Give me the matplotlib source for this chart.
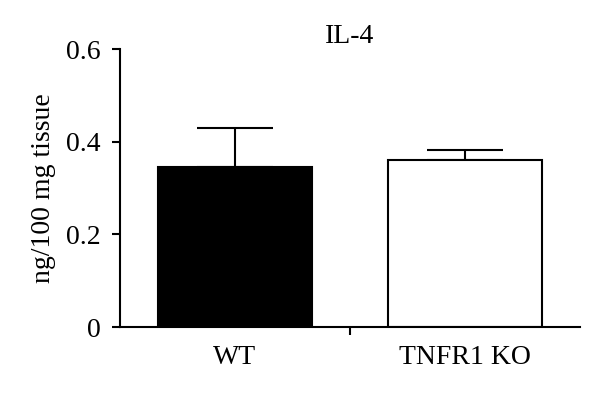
import matplotlib
matplotlib.use("Agg")
import matplotlib.pyplot as plt
from matplotlib.ticker import FixedLocator

categories = ["WT", "TNFR1 KO"]
means = [0.345, 0.361]
errors = [0.084, 0.020]
colors = ["black", "white"]
title = "IL-4"
ylabel = "ng/100 mg tissue"
yticks = [0, 0.2, 0.4, 0.6]
ytick_labels = ["0", "0.2", "0.4", "0.6"]

plt.rcParams['font.family'] = ['Liberation Serif', 'DejaVu Serif']

fig = plt.figure(figsize=(6, 3.94), dpi=100)
ax = fig.add_axes([0.2, 0.170, 0.7667, 0.7056])

x = list(range(len(categories)))
ax.bar(x, means, width=0.67, color=colors, edgecolor="black", linewidth=1.5, zorder=2)
ax.errorbar(x, means, yerr=[[0, 0], errors], fmt="none", ecolor="black",
            elinewidth=1.5, capsize=27.5, capthick=1.5, zorder=1)

ax.set_xlim(-0.5, 1.5)
ax.set_ylim(0, 0.6)
ax.spines["top"].set_visible(False)
ax.spines["right"].set_visible(False)
for s in ["left", "bottom"]:
    ax.spines[s].set_linewidth(1.5)

ax.set_yticks(yticks)
ax.set_yticklabels(ytick_labels)
ax.tick_params(axis="y", length=6, width=1.5, pad=8, labelsize=20)

ax.set_xticks(x)
ax.set_xticklabels(categories)
ax.tick_params(axis="x", which="major", length=0, pad=13, labelsize=20)
ax.xaxis.set_minor_locator(FixedLocator([0.5]))
ax.tick_params(axis="x", which="minor", length=6, width=1.5, direction="out")

ax.set_ylabel(ylabel, fontsize=20, labelpad=7)
ax.set_title(title, fontsize=20, pad=3)

fig.savefig("out.png", dpi=100)
